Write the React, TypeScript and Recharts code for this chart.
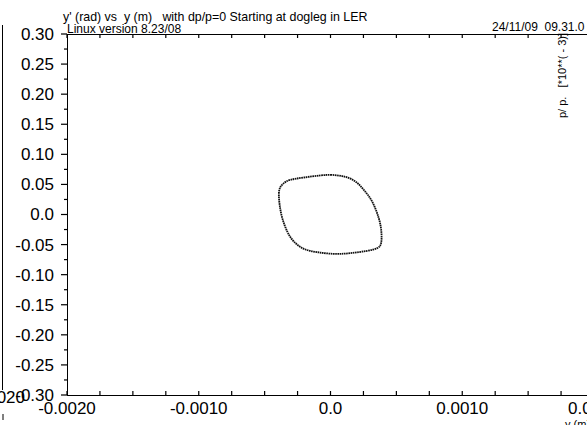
import React from "react";
import { ComposedChart, Line, XAxis, YAxis } from "recharts";

// Phase-space curve (y in m, y' in rad)
const curveX = [
  0, 0.000101, 0.000189, 0.000252, 0.000316, 0.000366, 0.000386, 0.000384, 0.000354, 0.000278,
  0.000152, 0.000025, -0.000101, -0.000202, -0.000278, -0.000328, -0.000366, -0.000386,
  -0.000392, -0.000384, -0.000354, -0.000303, -0.000202, -0.000076, 0,
];
const curveY = [
  0.066, 0.0632, 0.0549, 0.0411, 0.0216, -0.006, -0.0283, -0.0476, -0.0559, -0.0604,
  -0.0642, -0.0654, -0.0626, -0.0571, -0.0449, -0.0283, -0.006, 0.0161,
  0.0328, 0.0439, 0.0522, 0.0577, 0.0615, 0.0649, 0.066,
];

const xMajorTicks = [-0.002, -0.001, 0, 0.001, 0.002];
const xTickLabels = ["-0.0020", "-0.0010", "0.0", "0.0010", "0.0020"];
const xMinorTicks = [
  -0.00175, -0.0015, -0.00125, -0.00075, -0.0005, -0.00025,
  0.00025, 0.0005, 0.00075, 0.00125, 0.0015, 0.00175,
];

const yMajorTicks = [0.3, 0.25, 0.2, 0.15, 0.1, 0.05, 0, -0.05, -0.1, -0.15, -0.2, -0.25, -0.3];
const yTickLabels = ["0.30", "0.25", "0.20", "0.15", "0.10", "0.05", "0.0", "-0.05", "-0.10", "-0.15", "-0.20", "-0.25", "-0.30"];
const yMinorTicks = [0.275, 0.225, 0.175, 0.125, 0.075, 0.025, -0.025, -0.075, -0.125, -0.175, -0.225, -0.275];

const titleText = "y' (rad) vs  y (m)   with dp/p=0 Starting at dogleg in LER";
const versionText = "Linux version 8.23/08";
const dateText = "24/11/09  09.31.0";
const sideText = "p/ p.   [*10**( - 3)]";
const xAxisTitle = "y (m)";
const strayText = "020";

const data = curveX.map((x, i) => ({ x, y: curveY[i] }));

const FONT = "'Liberation Sans', Arial, Helvetica, sans-serif";
const TICK = "#000";

const findIdx = (arr: number[], v: number) => arr.findIndex((t) => Math.abs(t - v) < 1e-9);

const BottomTick = (props: any) => {
  const { x, y, payload } = props;
  const idx = findIdx(xMajorTicks, payload.value);
  return (
    <g>
      <rect x={x - 0.6} y={y - 4} width={1.2} height={4} fill={TICK} />
      {idx >= 0 && (
        <text x={x} y={y + 19} textAnchor="middle" fontSize={17} fontFamily={FONT} fill="#000">
          {xTickLabels[idx]}
        </text>
      )}
    </g>
  );
};

const TopTick = (props: any) => {
  const { x, y } = props;
  return <rect x={x - 0.6} y={y} width={1.2} height={4} fill={TICK} />;
};

const LeftTick = (props: any) => {
  const { x, y, payload } = props;
  const idx = findIdx(yMajorTicks, payload.value);
  const major = idx >= 0;
  const len = major ? 6 : 3;
  return (
    <g>
      <rect x={x - len} y={y - 0.6} width={len} height={1.2} fill={TICK} />
      {major && (
        <text x={x - 13} y={y} dy="0.35em" textAnchor="end" fontSize={17} fontFamily={FONT} fill="#000">
          {yTickLabels[idx]}
        </text>
      )}
    </g>
  );
};

const xTicks = [...xMajorTicks, ...xMinorTicks].sort((a, b) => a - b);
const yTicks = [...yMajorTicks, ...yMinorTicks].sort((a, b) => a - b);

export default function App() {
  return (
    <div style={{ position: "absolute", left: 0, top: 0, width: 587, height: 425, overflow: "hidden", background: "#fff" }}>
      <ComposedChart
        width={620}
        height={425}
        data={data}
        margin={{ top: 33, right: 26, bottom: 29, left: 66 }}
      >
        <XAxis
          xAxisId="bottom"
          type="number"
          dataKey="x"
          domain={[-0.002, 0.002]}
          ticks={xTicks}
          interval={0}
          height={1}
          tickSize={0}
          tickMargin={0}
          tickLine={false}
          axisLine={false}
          tick={<BottomTick />}
          allowDataOverflow
        />
        <XAxis
          xAxisId="top"
          orientation="top"
          type="number"
          dataKey="x"
          domain={[-0.002, 0.002]}
          ticks={xTicks}
          interval={0}
          height={1}
          tickSize={0}
          tickMargin={0}
          tickLine={false}
          axisLine={false}
          tick={<TopTick />}
          allowDataOverflow
        />
        <YAxis
          type="number"
          domain={[-0.3, 0.3]}
          ticks={yTicks}
          interval={0}
          width={1}
          tickSize={0}
          tickMargin={0}
          tickLine={false}
          axisLine={false}
          tick={<LeftTick />}
          allowDataOverflow
        />
        <Line
          xAxisId="bottom"
          type="natural"
          dataKey="y"
          stroke="#111"
          strokeWidth={1.8}
          strokeDasharray="1.6 0.6"
          dot={false}
          activeDot={false}
          isAnimationActive={false}
        />
      </ComposedChart>
      <svg
        width={587}
        height={425}
        style={{ position: "absolute", left: 0, top: 0, pointerEvents: "none" }}
      >
        <g stroke="#000" strokeWidth={1}>
          <line x1={67} x2={587} y1={34.5} y2={34.5} />
          <line x1={67} x2={587} y1={395.5} y2={395.5} />
          <line x1={67.5} x2={67.5} y1={34} y2={396} />
        </g>
        <g fontFamily={FONT} fill="#000">
          <text x={63} y={21} fontSize={12.4} style={{ whiteSpace: "pre" }}>{titleText}</text>
          <text x={67} y={33} fontSize={12}>{versionText}</text>
          <text x={492} y={31} fontSize={12} style={{ whiteSpace: "pre" }}>{dateText}</text>
          <text x={566} y={118} fontSize={11} transform="rotate(-90 566 118)" style={{ whiteSpace: "pre" }}>{sideText}</text>
          <text x={565} y={428} fontSize={11}>{xAxisTitle}</text>
          <text x={25} y={403} fontSize={17} textAnchor="end">{strayText}</text>
        </g>
        <line x1={2.5} x2={2.5} y1={25} y2={390} stroke="#000" strokeWidth={1} />
        <line x1={3} x2={3} y1={414} y2={420} stroke="#000" strokeWidth={1} />
      </svg>
    </div>
  );
}
